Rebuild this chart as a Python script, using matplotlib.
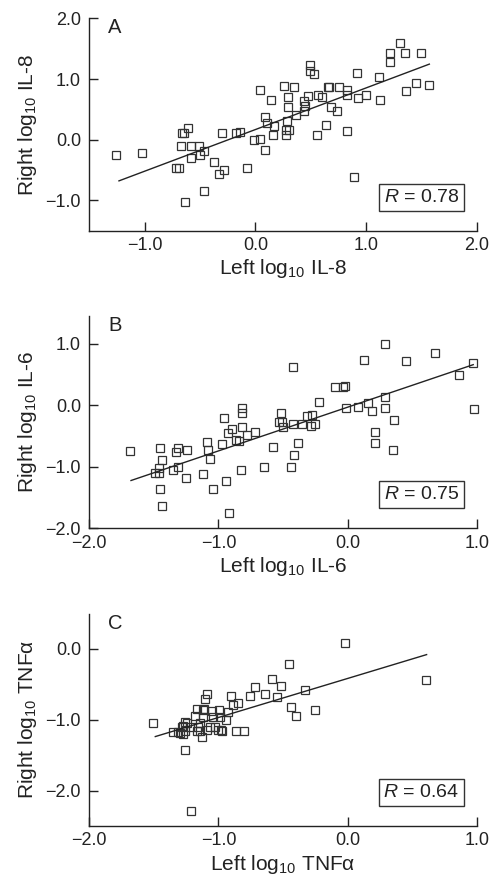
import numpy as np
import matplotlib
matplotlib.use("Agg")
import matplotlib.pyplot as plt
from matplotlib.ticker import FuncFormatter

plt.rcParams["font.family"] = ["Liberation Sans", "DejaVu Sans"]
plt.rcParams["mathtext.fontset"] = "custom"
plt.rcParams["mathtext.rm"] = "Liberation Sans"
plt.rcParams["mathtext.it"] = "Liberation Sans:italic"

# Panel A: IL-8
il8_left = [-1.262, -1.024, -0.714, -0.690, -0.660, -0.648, -0.605, -0.669, -0.578, -0.512,
            -0.578, -0.503, -0.464, -0.636, -0.467, -0.373, -0.331, -0.286, -0.298, -0.178,
            -0.142, -0.075, -0.015, 0.039, 0.045, 0.087, 0.090, 0.105, 0.166, 0.160,
            0.145, 0.259, 0.352, 0.298, 0.298, 0.286, 0.274, 0.280, 0.307, 0.370,
            0.437, 0.437, 0.446, 0.491, 0.491, 0.527, 0.473, 0.566, 0.602, 0.560,
            0.639, 0.657, 0.666, 0.687, 0.738, 0.756, 0.831, 0.825, 0.831, 0.892,
            0.916, 0.925, 1.000, 1.114, 1.123, 1.214, 1.214, 1.304, 1.355, 1.364,
            1.455, 1.494, 1.572]
il8_right = [-0.246, -0.213, -0.459, -0.459, 0.115, 0.115, 0.191, -0.109, -0.109, -0.109,
             -0.300, -0.246, -0.186, -1.033, -0.847, -0.372, -0.568, -0.497, 0.115, 0.115,
             0.126, -0.459, 0.000, 0.011, 0.825, -0.169, 0.372, 0.268, 0.219, 0.071,
             0.661, 0.880, 0.874, 0.710, 0.541, 0.306, 0.158, 0.071, 0.158, 0.410,
             0.634, 0.470, 0.552, 1.224, 1.137, 1.087, 0.716, 0.738, 0.705, 0.082,
             0.240, 0.863, 0.869, 0.541, 0.470, 0.869, 0.825, 0.743, 0.137, -0.612,
             1.104, 0.683, 0.743, 1.033, 0.656, 1.426, 1.284, 1.590, 1.426, 0.803,
             0.934, 1.421, 0.907]

# Panel B: IL-6
il6_left = [-1.683, -1.492, -1.458, -1.458, -1.450, -1.435, -1.453, -1.435, -1.350, -1.332,
            -1.311, -1.311, -1.244, -1.254, -1.120, -1.086, -1.084, -1.063, -1.043, -0.973,
            -0.955, -0.942, -0.921, -0.926, -0.898, -0.867, -0.839, -0.821, -0.815, -0.815,
            -0.823, -0.782, -0.715, -0.645, -0.575, -0.534, -0.516, -0.508, -0.503, -0.436,
            -0.421, -0.421, -0.413, -0.387, -0.356, -0.317, -0.284, -0.276, -0.250, -0.219,
            -0.095, -0.034, -0.021, -0.015, 0.080, 0.124, 0.160, 0.188, 0.212, 0.212,
            0.292, 0.292, 0.292, 0.361, 0.354, 0.454, 0.674, 0.862, 0.968, 0.978]
il6_right = [-0.745, -1.103, -1.103, -1.022, -0.696, -0.897, -1.364, -1.636, -1.054, -0.761,
             -0.696, -1.011, -0.734, -1.190, -1.114, -0.603, -0.723, -0.870, -1.364, -0.636,
             -0.207, -1.239, -1.750, -0.451, -0.386, -0.560, -0.587, -0.054, -0.130, -0.348,
             -1.054, -0.484, -0.440, -1.011, -0.674, -0.266, -0.120, -0.272, -0.359, -1.005,
             0.625, -0.310, -0.810, -0.620, -0.310, -0.174, -0.332, -0.163, -0.299, 0.054,
             0.288, 0.288, 0.310, -0.054, -0.033, 0.728, 0.038, -0.092, -0.440, -0.620,
             0.995, 0.136, -0.054, -0.239, -0.723, 0.712, 0.853, 0.484, 0.679, -0.065]

# Panel C: TNFalpha
tnf_left = [-1.505, -1.092, -1.102, -0.906, -0.852, -0.885, -0.756, -1.169, -1.117, -1.053,
            -0.994, -1.182, -1.117, -1.040, -0.988, -0.942, -1.246, -1.143, -1.027, -1.350,
            -1.298, -1.259, -1.285, -1.169, -1.143, -1.092, -1.001, -0.983, -1.130, -1.272,
            -0.867, -0.800, -1.259, -1.210, -1.311, -1.277, -1.259, -1.221, -1.156, -1.110,
            -1.066, -0.975, -0.924, -0.720, -0.637, -0.588, -0.550, -0.516, -0.452, -0.441,
            -0.397, -0.330, -0.253, -0.021, 0.606]
tnf_right = [-1.049, -0.637, -0.707, -0.670, -0.768, -0.787, -0.660, -0.848, -0.862, -0.880,
             -0.862, -0.941, -0.965, -0.956, -0.965, -1.002, -1.049, -1.049, -1.096, -1.176,
             -1.190, -1.162, -1.096, -1.152, -1.152, -1.143, -1.143, -1.143, -1.237, -1.208,
             -1.162, -1.162, -1.433, -2.295, -1.176, -1.082, -1.035, -1.105, -1.105, -0.848,
             -1.105, -1.162, -0.895, -0.543, -0.642, -0.431, -0.684, -0.520, -0.211, -0.815,
             -0.951, -0.576, -0.857, 0.080, -0.445]

# regression lines: slope, intercept, x start, x end
fit_a = (0.686, 0.167, -1.232, 1.572)
fit_b = (0.710, -0.033, -1.677, 0.973)
fit_c = (0.551, -0.417, -1.489, 0.612)

panels = [
    ("A", il8_left, il8_right, fit_a, "0.78", "IL-8", (-1.5, 2.0), (-1.5, 2.0),
     [-1.0, 0.0, 1.0, 2.0], [-1.0, 0.0, 1.0, 2.0]),
    ("B", il6_left, il6_right, fit_b, "0.75", "IL-6", (-2.0, 1.0), (-2.0, 1.45),
     [-2.0, -1.0, 0.0, 1.0], [-2.0, -1.0, 0.0, 1.0]),
    ("C", tnf_left, tnf_right, fit_c, "0.64", "TNF\u03b1", (-2.0, 1.0), (-2.5, 0.5),
     [-2.0, -1.0, 0.0, 1.0], [-2.0, -1.0, 0.0]),
]

fig = plt.figure(figsize=(4.91, 8.77), dpi=100)
bottoms = [0.7369, 0.3976, 0.0582]
fmt = FuncFormatter(lambda v, p: f"{v:.1f}".replace("-", "\u2212"))
ink = "#222222"

for (letter, xs, ys, fit, r, name, xl, yl, xt, yt), b in zip(panels, bottoms):
    ax = fig.add_axes([0.1819, b, 0.789, 0.2422])
    ax.plot(xs, ys, linestyle="none", marker="s", markersize=5.6, clip_on=False,
            markerfacecolor="none", markeredgecolor="#333333", markeredgewidth=0.9)
    slope, icpt, x0, x1 = fit
    lx = np.array([x0, x1])
    ax.plot(lx, slope * lx + icpt, color=ink, linewidth=1.0)
    ax.set_xlim(*xl)
    ax.set_ylim(*yl)
    ax.set_xticks(xt)
    ax.set_yticks(yt)
    ax.xaxis.set_major_formatter(fmt)
    ax.yaxis.set_major_formatter(fmt)
    for s in ["top", "right"]:
        ax.spines[s].set_visible(False)
    for s in ["left", "bottom"]:
        ax.spines[s].set_linewidth(1.0)
        ax.spines[s].set_color(ink)
    ax.tick_params(direction="in", length=6.5, width=1.0, labelsize=13,
                   colors=ink)
    ax.tick_params(axis="x", pad=4.5)
    ax.tick_params(axis="y", pad=6)
    ax.set_xlabel(f"Left log$_{{10}}$ {name}", fontsize=15, color=ink, labelpad=2.5)
    ax.set_ylabel(f"Right log$_{{10}}$ {name}", fontsize=15, color=ink, labelpad=5)
    ax.text(0.066, 0.955, letter, transform=ax.transAxes, fontsize=14.5,
            ha="center", va="center", color=ink)
    ax.text(0.857, 0.158, f"$R$ = {r}", transform=ax.transAxes, fontsize=14,
            ha="center", va="center", color=ink,
            bbox=dict(boxstyle="square,pad=0.25", facecolor="white",
                      edgecolor="#333333", linewidth=1.0))

fig.savefig("out.png", dpi=100)
